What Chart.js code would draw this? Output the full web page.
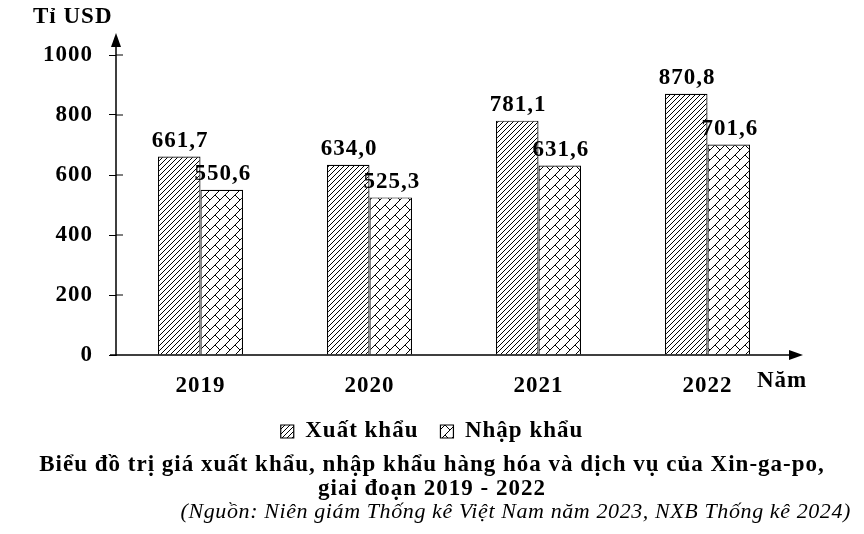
<!DOCTYPE html>
<html>
<head>
<meta charset="utf-8">
<script src="https://cdn.jsdelivr.net/npm/chart.js@4/dist/chart.umd.min.js"></script>
<style>
  body { margin: 0; background: #fff; }
  #wrap { width: 864px; height: 534px; }
</style>
</head>
<body>
<div id="wrap"><canvas id="graphCanvas"></canvas></div>
<script>
var years = ['2019', '2020', '2021', '2022'];
var exportValues = [661.7, 634.0, 781.1, 870.8];
var importValues = [550.6, 525.3, 631.6, 701.6];
var yTickStep = 200;
var yMax = 1000;

var serif = '"Liberation Serif", "Times New Roman", serif';

// diagonal hatch for export bars
function hatchPattern() {
    var s = 5;
    var c = document.createElement('canvas');
    c.width = s; c.height = s;
    var g = c.getContext('2d');
    g.fillStyle = '#fff';
    g.fillRect(0, 0, s, s);
    g.strokeStyle = '#000';
    g.lineWidth = 1;
    g.beginPath();
    g.moveTo(0, s); g.lineTo(s, 0);
    g.moveTo(-1, 1); g.lineTo(1, -1);
    g.moveTo(s - 1, s + 1); g.lineTo(s + 1, s - 1);
    g.stroke();
    return g.createPattern(c, 'repeat');
}

// brick pattern for import bars: long "/" lines, short staggered joints
function brickPattern() {
    var s = 10;
    var c = document.createElement('canvas');
    c.width = s; c.height = s;
    var g = c.getContext('2d');
    g.fillStyle = '#fff';
    g.fillRect(0, 0, s, s);
    g.strokeStyle = '#000';
    g.lineWidth = 1;
    g.beginPath();
    g.moveTo(0, s); g.lineTo(s, 0);
    g.moveTo(-1, 1); g.lineTo(1, -1);
    g.moveTo(s - 1, s + 1); g.lineTo(s + 1, s - 1);
    g.moveTo(s / 2, s / 2); g.lineTo(s, s);
    g.stroke();
    return g.createPattern(c, 'repeat');
}

function fmt(v) {
    return v.toFixed(1).replace('.', ',');
}

// the reference text is a bit wider than Times, so space it out a little
var spacingPlugin = {
    id: 'spacing',
    beforeLayout: function (chart) { chart.ctx.letterSpacing = '1px'; },
    beforeDraw: function (chart) { chart.ctx.letterSpacing = '1px'; }
};

var extrasPlugin = {
    id: 'extras',
    afterDraw: function (chart) {
        var ctx = chart.ctx;
        var area = chart.chartArea;
        var ys = chart.scales.y;
        var x0 = area.left, y0 = area.bottom;
        ctx.save();
        ctx.strokeStyle = '#000';
        ctx.fillStyle = '#000';
        ctx.lineWidth = 1.5;

        // axes
        ctx.beginPath();
        ctx.moveTo(x0, y0 + 1);
        ctx.lineTo(x0, 45);
        ctx.moveTo(x0 - 6, y0);
        ctx.lineTo(790, y0);
        ctx.stroke();
        ctx.beginPath();
        ctx.moveTo(x0, 33); ctx.lineTo(x0 - 5, 47); ctx.lineTo(x0 + 5, 47);
        ctx.closePath(); ctx.fill();
        ctx.beginPath();
        ctx.moveTo(803, y0); ctx.lineTo(789, y0 - 5); ctx.lineTo(789, y0 + 5);
        ctx.closePath(); ctx.fill();

        // inner half of the y ticks
        ctx.lineWidth = 1;
        ctx.beginPath();
        for (var v = yTickStep; v <= yMax; v += yTickStep) {
            var py = ys.getPixelForValue(v);
            ctx.moveTo(x0, py); ctx.lineTo(x0 + 7, py);
        }
        ctx.stroke();

        // value labels
        ctx.letterSpacing = '1px';
        ctx.font = 'bold 23px ' + serif;
        ctx.textAlign = 'center';
        ctx.textBaseline = 'bottom';
        chart.data.datasets.forEach(function (ds, i) {
            var meta = chart.getDatasetMeta(i);
            meta.data.forEach(function (bar, j) {
                ctx.fillText(fmt(ds.data[j]), bar.x + 1, bar.y - 4);
            });
        });

        // axis titles
        ctx.textBaseline = 'middle';
        ctx.textAlign = 'left';
        ctx.fillText('Tỉ USD', 33, 17);
        ctx.fillText('Năm', 757, 381);

        // source
        ctx.letterSpacing = '0.6px';
        ctx.font = 'italic 22px ' + serif;
        ctx.textAlign = 'right';
        ctx.fillText('(Nguồn: Niên giám Thống kê Việt Nam năm 2023, NXB Thống kê 2024)', 851, 512);
        ctx.restore();
    }
};

Chart.defaults.color = '#000';
Chart.defaults.font.family = serif;

var chartdata = {
    labels: years,
    datasets: [
        {
            label: 'Xuất khẩu',
            backgroundColor: hatchPattern(),
            borderColor: '#000',
            borderWidth: 1.2,
            data: exportValues
        },
        {
            label: 'Nhập khẩu',
            backgroundColor: brickPattern(),
            borderColor: '#000',
            borderWidth: 1.2,
            data: importValues
        }
    ]
};

var graphTarget = document.getElementById('graphCanvas');

var barGraph = new Chart(graphTarget, {
    type: 'bar',
    data: chartdata,
    plugins: [spacingPlugin, extrasPlugin],
    options: {
        responsive: true,
        maintainAspectRatio: false,
        animation: false,
        layout: { padding: { top: 55, left: 0, right: 0, bottom: 27 } },
        datasets: { bar: { barPercentage: 1, categoryPercentage: 0.503 } },
        scales: {
            x: {
                grid: { display: false },
                border: { display: false },
                ticks: { font: { size: 23, weight: 'bold' }, padding: 9 },
                afterFit: function (s) { s.height = 43; }
            },
            y: {
                min: 0,
                max: yMax,
                ticks: {
                    stepSize: yTickStep,
                    font: { size: 23, weight: 'bold' },
                    padding: 16,
                    callback: function (v) { return String(v); }
                },
                grid: { drawOnChartArea: false, tickLength: 7, color: '#000' },
                border: { display: false },
                afterFit: function (s) { s.width = 116; }
            },
            yRight: {
                position: 'right',
                display: true,
                grid: { display: false },
                border: { display: false },
                ticks: { display: false },
                afterFit: function (s) { s.width = 72; }
            }
        },
        plugins: {
            tooltip: { enabled: false },
            legend: {
                position: 'bottom',
                labels: {
                    boxWidth: 13,
                    boxHeight: 13,
                    padding: 22,
                    font: { size: 23, weight: 'bold' }
                }
            },
            title: {
                display: true,
                position: 'bottom',
                text: [
                    'Biểu đồ trị giá xuất khẩu, nhập khẩu hàng hóa và dịch vụ của Xin-ga-po,',
                    'giai đoạn 2019 - 2022'
                ],
                font: { size: 23, weight: 'bold', lineHeight: '24px' },
                padding: { top: 0, bottom: 6 }
            }
        }
    }
});
</script>
</body>
</html>
